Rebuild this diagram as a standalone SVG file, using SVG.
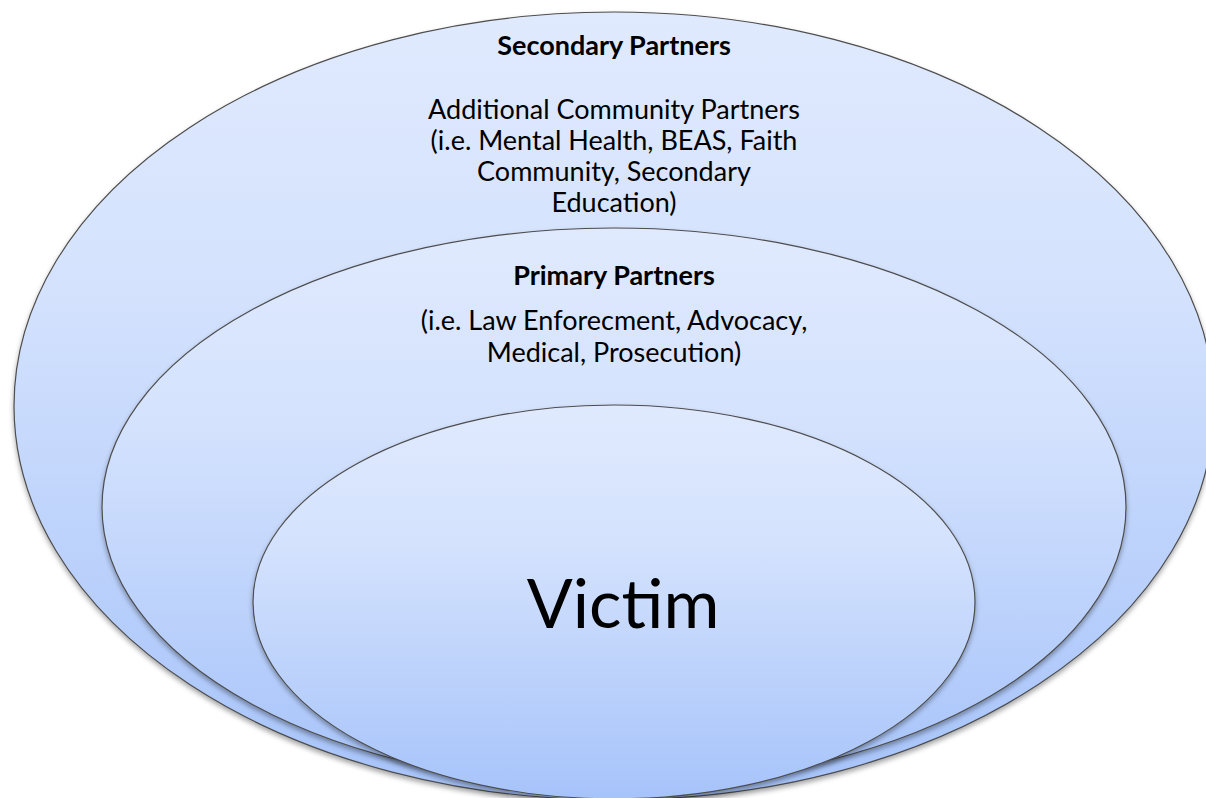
<svg xmlns="http://www.w3.org/2000/svg" width="1206" height="798" viewBox="0 0 1206 798">
  <defs>
    <linearGradient id="fillGrad" x1="0" y1="0" x2="0" y2="1">
      <stop offset="0" stop-color="#e0eafe"/>
      <stop offset="0.35" stop-color="#d4e2fd"/>
      <stop offset="1" stop-color="#a6c3fa"/>
    </linearGradient>
    <filter id="shadow" x="-5%" y="-5%" width="110%" height="115%">
      <feDropShadow dx="0" dy="3" stdDeviation="2.5" flood-color="#000" flood-opacity="0.35"/>
    </filter>
  </defs>
  <style>
    .ring { fill: url(#fillGrad); stroke: #4d4d4d; stroke-width: 1.2; filter: url(#shadow); }
    .t { font-family: Lato, "Liberation Sans", sans-serif; font-size: 27px; fill: #000; text-anchor: middle; }
    .b { font-weight: bold; }
    .big { font-family: Lato, "Liberation Sans", sans-serif; font-size: 68px; fill: #000; text-anchor: middle; }
  </style>
  <rect width="1206" height="798" fill="#ffffff"/>
  <g id="secondary">
    <ellipse class="ring" cx="614" cy="406" rx="600" ry="394"/>
    <text class="t b" x="614" y="55">Secondary Partners</text>
    <text class="t" x="614" y="119">Additional Community Partners</text>
    <text class="t" x="614" y="150">(i.e. Mental Health, BEAS, Faith</text>
    <text class="t" x="614" y="181">Community, Secondary</text>
    <text class="t" x="614" y="212">Education)</text>
  </g>
  <g id="primary">
    <ellipse class="ring" cx="614" cy="507" rx="512" ry="279"/>
    <text class="t b" x="614" y="285">Primary Partners</text>
    <text class="t" x="614" y="330">(i.e. Law Enforecment, Advocacy,</text>
    <text class="t" x="614" y="362">Medical, Prosecution)</text>
  </g>
  <g id="victim">
    <ellipse class="ring" cx="614" cy="602" rx="361" ry="197"/>
    <text class="big" x="623" y="628">Victim</text>
  </g>
  <g id="connectors"></g>
</svg>
